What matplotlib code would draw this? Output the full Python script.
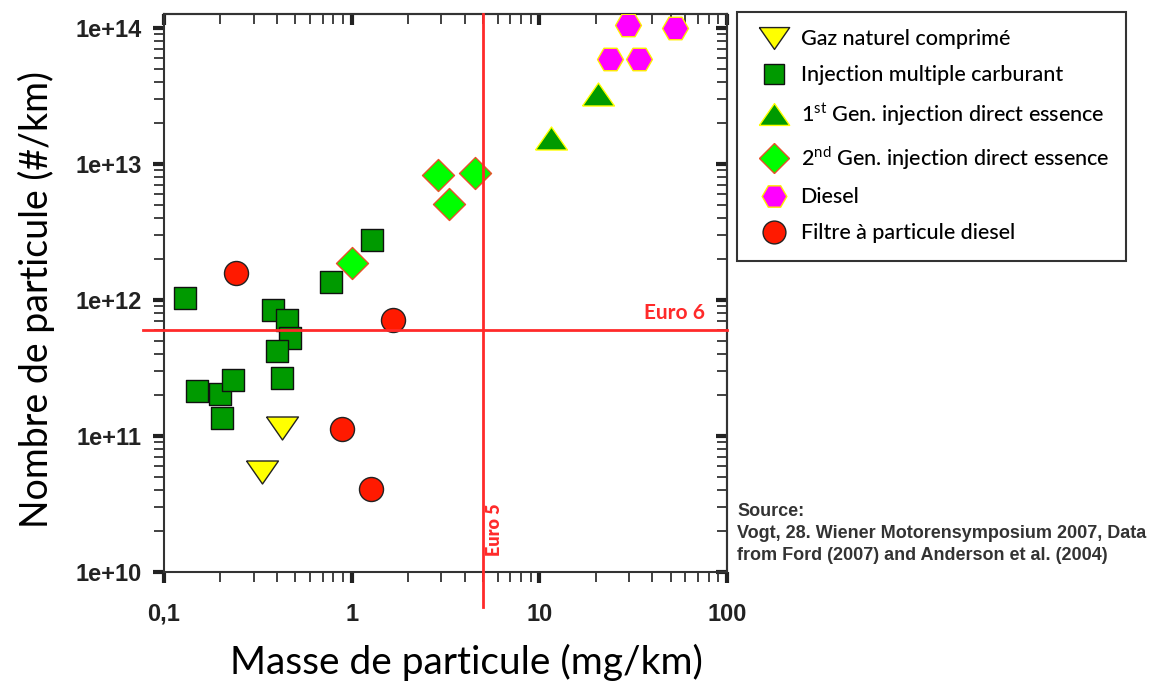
import matplotlib
matplotlib.use("Agg")
import matplotlib.pyplot as plt
from matplotlib.lines import Line2D
from matplotlib.path import Path

plt.rcParams['mathtext.fontset'] = 'custom'
plt.rcParams['mathtext.rm'] = 'Lato'

# Data (mass mg/km, number #/km)
gnc_x = [0.424, 0.334]
gnc_y = [1.14e11, 5.47e10]

imc_x = [0.130, 0.381, 0.452, 0.469, 0.398, 0.425, 0.149, 0.200, 0.232, 0.203, 0.776, 1.29]
imc_y = [1.04e12, 8.4e11, 7.1e11, 5.25e11, 4.24e11, 2.66e11, 2.14e11, 2.04e11, 2.58e11,
         1.35e11, 1.36e12, 2.76e12]

gdi1_x = [11.5, 20.6]
gdi1_y = [1.55e13, 3.26e13]

gdi2_x = [2.89, 4.54, 3.31, 1.01]
gdi2_y = [8.3e12, 8.55e12, 5.08e12, 1.88e12]

diesel_x = [29.8, 53.0, 23.8, 34.1]
diesel_y = [1.06e14, 1.0e14, 5.92e13, 5.92e13]

dpf_x = [0.242, 1.66, 0.885, 1.26]
dpf_y = [1.59e12, 7.1e11, 1.13e11, 4.07e10]

euro5_mass = 5.0
euro6_number = 6.0e11

x_ticks = [0.1, 1, 10, 100]
x_tick_labels = ['0,1', '1', '10', '100']
y_ticks = [1e10, 1e11, 1e12, 1e13, 1e14]
y_tick_labels = ['1e+10', '1e+11', '1e+12', '1e+13', '1e+14']

labels = ['Gaz naturel comprimé',
          'Injection multiple carburant',
          r'1$^{\rm st}$ Gen. injection direct essence',
          r'2$^{\rm nd}$ Gen. injection direct essence',
          'Diesel',
          'Filtre à particule diesel']

tri_down = Path([(-1, 0.72), (1, 0.72), (0, -0.72), (-1, 0.72)])
tri_up = Path([(-1, -0.72), (1, -0.72), (0, 0.72), (-1, -0.72)])

styles = [
    dict(marker=tri_down, ms=23, fc='#ffff00', ec='#222222'),
    dict(marker='s', ms=15.8, fc='#009a00', ec='#111111'),
    dict(marker=tri_up, ms=23, fc='#009a00', ec='#ffff00'),
    dict(marker='D', ms=16.3, fc='#00ff00', ec='#e8502a'),
    dict(marker='H', ms=18.7, fc='#ff00ff', ec='#ffee00'),
    dict(marker='o', ms=17.3, fc='#ff1a00', ec='#222222'),
]
series = [(gnc_x, gnc_y), (imc_x, imc_y), (gdi1_x, gdi1_y),
          (gdi2_x, gdi2_y), (diesel_x, diesel_y), (dpf_x, dpf_y)]

fig = plt.figure(figsize=(11.53, 6.84), dpi=100)
ax = fig.add_axes([164 / 1153, 112 / 684, 563 / 1153, 558 / 684])
ax.set_xscale('log')
ax.set_yscale('log')
ax.set_xlim(0.1, 100)
ax.set_ylim(1e10, 10 ** 14.103)

for (xs, ys), st in zip(series, styles):
    ax.scatter(xs, ys, marker=st['marker'], s=st['ms'] ** 2, facecolor=st['fc'],
               edgecolor=st['ec'], linewidths=1.0, zorder=3)

# limits (extend past the frame)
red = '#ff2a2a'
ax.plot([0.077, 100], [euro6_number, euro6_number], color=red, lw=2, zorder=4, clip_on=False)
ax.plot([euro5_mass, euro5_mass], [10 ** 9.74, 10 ** 14.103], color=red, lw=2, zorder=4, clip_on=False)
ax.text(76, euro6_number * 1.12, 'Euro 6', color=red, fontsize=15, fontweight='bold',
        family='Lato', ha='right', va='bottom')
ax.text(euro5_mass * 1.15, 10 ** 10.31, 'Euro 5', color=red, fontsize=13, fontweight='heavy',
        family='Lato', ha='center', va='center', rotation=90)

for sp in ax.spines.values():
    sp.set_color('#333333')
    sp.set_linewidth(1.5)

ax.set_xticks(x_ticks)
ax.set_xticklabels(x_tick_labels)
ax.set_yticks(y_ticks)
ax.set_yticklabels(y_tick_labels)
ax.tick_params(which='major', direction='out', length=8, width=3, color='#222222',
               labelsize=17)
ax.tick_params(which='minor', direction='out', length=7, width=1.3, color='#333333')
ax.tick_params(axis='x', which='major', pad=14)
ax.tick_params(axis='y', which='major', pad=8)
for lab in ax.get_xticklabels() + ax.get_yticklabels():
    lab.set_fontfamily('Liberation Sans')
    lab.set_fontweight('bold')
    lab.set_color('#222222')

top = ax.secondary_xaxis('top')
top.tick_params(which='major', direction='in', length=8, width=3, color='#222222', labeltop=False)
top.tick_params(which='minor', direction='in', length=7, width=1.3, color='#333333')
top.set_xticks(x_ticks)
top.set_xticklabels([])
right = ax.secondary_yaxis('right')
right.tick_params(which='major', direction='in', length=8, width=3, color='#222222', labelright=False)
right.tick_params(which='minor', direction='in', length=7, width=1.3, color='#333333')
right.set_yticks(y_ticks)
right.set_yticklabels([])
for sec in (top, right):
    for sp in sec.spines.values():
        sp.set_color('#333333')
        sp.set_linewidth(1.5)

fig.text(466 / 1153, 1 - 674 / 684, 'Masse de particule (mg/km)', fontsize=28, family='Lato',
         ha='center', va='baseline')
fig.text(36 / 1153, 1 - 300 / 684, 'Nombre de particule (#/km)', fontsize=27, family='Lato',
         ha='center', va='center', rotation=90)

handles = [Line2D([], [], ls='none', marker=st['marker'], ms=st['ms'] * 0.95,
                  mfc=st['fc'], mec=st['ec'], mew=1.0) for st in styles]
leg = fig.legend(handles, labels, loc='upper left', bbox_to_anchor=(737 / 1153, 1 - 12 / 684),
                 frameon=True, fancybox=False, edgecolor='#333333', framealpha=1,
                 prop={'family': 'Lato', 'size': 15.5, 'weight': 'medium'}, labelspacing=0.74,
                 handletextpad=0.35, borderpad=0.8, borderaxespad=0, handlelength=1.8)
leg.get_frame().set_linewidth(1.5)

fig.text(737 / 1153, 1 - 503 / 684,
         'Source:\nVogt, 28. Wiener Motorensymposium 2007, Data\nfrom Ford (2007) and Anderson et al. (2004)',
         family='Liberation Sans', fontweight='bold', fontsize=13,
         color='#333333', va='top', ha='left', linespacing=1.4)

fig.savefig('out.png', dpi=100)
